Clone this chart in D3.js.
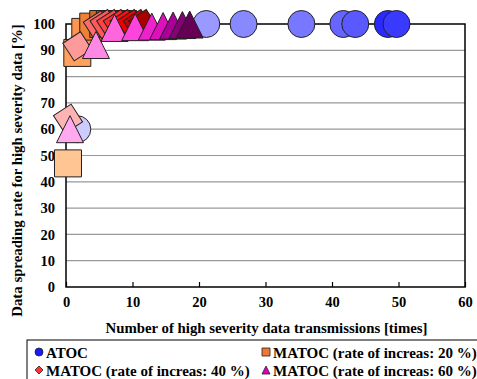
<!DOCTYPE html>
<html><head><meta charset="utf-8">
<script src="https://cdn.jsdelivr.net/npm/d3@7"></script>
<style>body{margin:0;background:#fff}svg{display:block}</style>
</head><body><svg id="c" width="477" height="379"></svg>
<script>
// ---- data ----
const xTicks = [0,10,20,30,40,50,60];
const yTicks = [0,10,20,30,40,50,60,70,80,90,100];
const seriesNames = ["ATOC","MATOC (rate of increas: 20 %)","MATOC (rate of increas: 40 %)","MATOC (rate of increas: 60 %)"];
const atocX = [1.7, 21.1, 26.7, 35.4, 41.7, 43.5, 48.4, 49.7];
const atocY = [60, 100, 100, 100, 100, 100, 100, 100];
const m20X = [0.3, 1.7, 2.9, 4.1, 5.6, 6.6, 7.6, 8.6];
const m20Y = [47, 89, 97, 99, 100, 100, 100, 100];
const m40X = [0.3, 1.7, 4.8, 5.8, 6.8, 7.8, 8.8, 9.8, 10.8, 11.6];
const m40Y = [64, 91.5, 99.5, 100, 100, 100, 100, 100, 100, 100];
const m60X = [0.6, 4.5, 7.3, 10.4, 12.9, 14.6, 16.1, 17.5, 18.6];
const m60Y = [60, 92, 98.5, 98.8, 99, 99.2, 99.4, 99.6, 99.8];

// ---- layout ----
const FONT = '"Liberation Serif","Times New Roman",Times,serif';
const svg = d3.select("#c");
const L = 66, R = 465, T = 24, B = 287;
const x = d3.scaleLinear().domain([0,60]).range([L,R]);
const y = d3.scaleLinear().domain([0,100]).range([B,T]);

// gridlines
svg.append("g").selectAll("line").data(yTicks.filter(d=>d>0&&d<100)).join("line")
  .attr("x1",L).attr("x2",R).attr("y1",d=>y(d)).attr("y2",d=>y(d))
  .attr("stroke","#999").attr("stroke-width",1.2);

// axes
const xa = svg.append("g").attr("transform",`translate(0,${B})`)
  .call(d3.axisBottom(x).tickValues(xTicks).tickSize(-5).tickPadding(10).tickFormat(d3.format("d")));
xa.select(".domain").remove();
xa.selectAll("line").attr("stroke","#000").attr("stroke-width",1.2);
const ya = svg.append("g").attr("transform",`translate(${L},0)`)
  .call(d3.axisLeft(y).tickValues(yTicks).tickSize(0).tickPadding(11).tickFormat(d3.format("d")));
ya.select(".domain").remove();
[xa,ya].forEach(a=>a.attr("font-family",FONT).attr("font-size",14.5).attr("font-weight","bold")
  .selectAll("text").attr("fill","#000"));

// plot frame
svg.append("rect").attr("x",L).attr("y",T).attr("width",R-L).attr("height",B-T)
  .attr("fill","none").attr("stroke","#000").attr("stroke-width",1.5);

// marker shapes (bounding-box centred)
function shape(type, s){
  const h = s/2;
  if(type==="circle"){const p=d3.path();p.arc(0,0,h,0,2*Math.PI);return p.toString();}
  if(type==="square") return `M${-h},${-h}H${h}V${h}H${-h}Z`;
  if(type==="diamond") return `M0,${-h}L${h},0L0,${h}L${-h},0Z`;
  if(type==="tilted"){const a=h*0.78;return `M${-a},${-a}H${a}V${a}H${-a}Z`;}
  if(type==="triangle") return `M0,${-h}L${h},${h}L${-h},${h}Z`;
}
// per-point colour ramps (style only)
const series = [
  {xs:atocX, ys:atocY, type:"circle", size:27, rot:0,
   colors:["#ccccff","#9999ff","#8888ff","#7777ff","#6666ff","#5959ff","#2a2aff","#3a3aff"]},
  {xs:m20X, ys:m20Y, type:"square", size:27, rot:0,
   colors:["#ffc592","#ffa05c","#ff9650","#f08038","#cc6a22","#a85418","#884410","#663300"]},
  {xs:m40X, ys:m40Y, type:"tilted", size:27, rot:-33,
   colors:["#ffb4b4","#ff9a9a","#ff6a6a","#ff5a5a","#ff4444","#ff2a2a","#ff1010","#ee0000","#cc0000","#aa0000"]},
  {xs:m60X, ys:m60Y, type:"triangle", size:27, rot:0,
   colors:["#ffaaee","#ff88e4","#ff66dd","#ff44dd","#ee22cc","#dd11bb","#aa0099","#880077","#660055"]}
];
series.forEach(s=>{
  const n = s.xs.length;
  svg.append("g").selectAll("path").data(d3.range(n)).join("path")
    .attr("transform",i=>`translate(${x(s.xs[i])},${y(s.ys[i])}) rotate(${s.rot})`)
    .attr("d",shape(s.type,s.size))
    .attr("fill",i=>s.colors[i % s.colors.length]).attr("stroke","#222").attr("stroke-width",1);
});

// axis titles
svg.append("text").attr("x",(L+R)/2+1).attr("y",333).attr("text-anchor","middle")
  .attr("font-family",FONT).attr("font-weight","bold")
  .attr("font-size",14.8).text("Number of high severity data transmissions [times]");
svg.append("text").attr("transform",`translate(22,${(T+B)/2+15}) rotate(-90)`).attr("text-anchor","middle")
  .attr("font-family",FONT).attr("font-weight","bold")
  .attr("font-size",14.8).text("Data spreading rate for high severity data [%]");

// legend
svg.append("rect").attr("x",27).attr("y",340).attr("width",470).attr("height",50)
  .attr("fill","#fff").attr("stroke","#000").attr("stroke-width",1);
const legPos = [[39,352],[266,352],[39,370],[266,370]];
const legCol = ["#1a1aff","#ee7733","#ff3333","#dd00bb"];
seriesNames.forEach((nm,i)=>{
  const [lx,ly] = legPos[i];
  svg.append("path").attr("transform",`translate(${lx},${ly})`)
    .attr("d",shape(series[i].type==="tilted"?"diamond":series[i].type,8))
    .attr("fill",legCol[i]).attr("stroke","#222").attr("stroke-width",0.8);
  svg.append("text").attr("x",lx+7).attr("y",ly+5.5)
    .attr("font-family",FONT).attr("font-weight","bold")
    .attr("font-size",15).text(nm);
});
</script></body></html>
